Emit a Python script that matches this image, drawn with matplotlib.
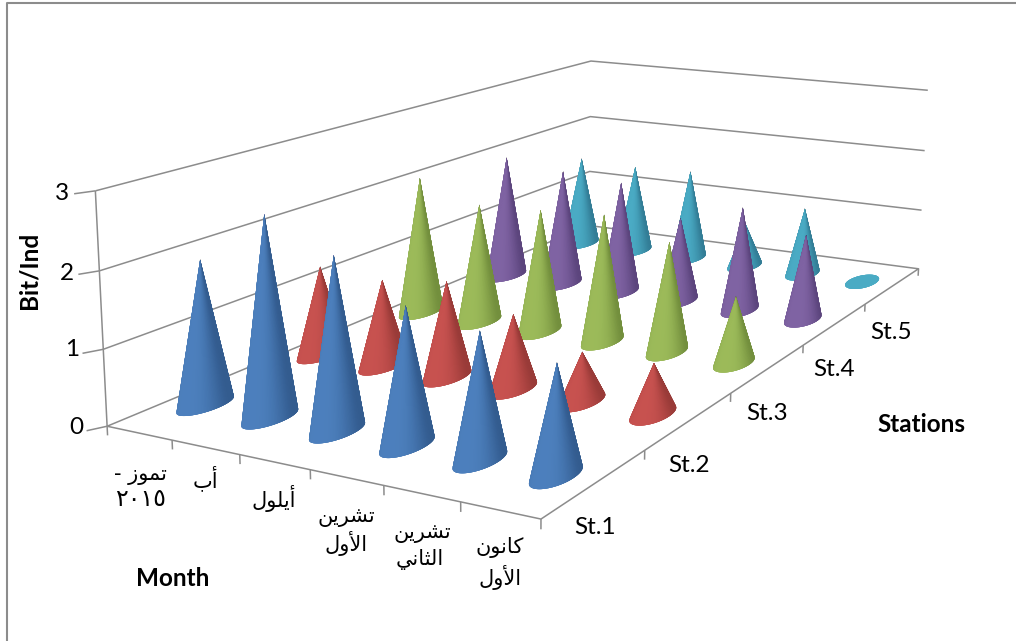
import numpy as np
import matplotlib
matplotlib.use("Agg")
import matplotlib.pyplot as plt
from matplotlib.lines import Line2D
from mpl_toolkits.mplot3d.art3d import Poly3DCollection

W, H = 1016, 641

# rows are stations, columns are months
st1 = [1.93, 2.64, 2.25, 1.76, 1.60, 1.37]
st2 = [1.27, 1.22, 1.34, 1.03, 0.67, 0.68]
st3 = [2.07, 1.78, 1.82, 1.87, 1.60, 0.95]
st4 = [1.95, 1.83, 1.76, 1.32, 1.60, 1.30]
st5 = [1.50, 1.46, 1.49, 0.70, 1.09, 0.00]
stations = ["St.1", "St.2", "St.3", "St.4", "St.5"]
z_ticks = [0, 1, 2, 3]

# Arabic month names as presentation forms in visual order,
# matplotlib does no shaping of its own
m_tammuz = "- \uFEAF\uFEEE\uFEE4\uFE97"
m_2015 = "\u0662\u0660\u0661\u0665"
m_ab = "\uFE8F\uFE83"
m_aylul = "\uFEDD\uFEEE\uFEE0\uFEF3\uFE83"
m_tishrin = "\uFEE6\uFEF3\uFEAE\uFEB8\uFE97"
m_awwal = "\uFEDD\uFEED\uFEF7\uFE8D"
m_thani = "\uFEF2\uFEE7\uFE8E\uFE9C\uFEDF\uFE8D"
m_kanun = "\uFEE5\uFEEE\uFEE7\uFE8E\uFEDB"

# (light, dark) per series
colours = [
    ((0.30, 0.50, 0.74), (0.20, 0.36, 0.56)),
    ((0.78, 0.32, 0.31), (0.60, 0.23, 0.22)),
    ((0.61, 0.73, 0.35), (0.45, 0.56, 0.24)),
    ((0.50, 0.39, 0.64), (0.36, 0.27, 0.49)),
    ((0.29, 0.67, 0.77), (0.20, 0.49, 0.59)),
]
GRID = "#8c8c8c"

plt.rcParams["font.family"] = ["Lato", "DejaVu Sans"]

fig = plt.figure(figsize=(W / 100, H / 100), dpi=100)
fig.patch.set_facecolor("white")

ax = fig.add_axes([0, 0, 1, 1], projection="3d", computed_zorder=False)
ax.set_xlim(0, 6)
ax.set_ylim(0, 5)
ax.set_zlim(0, 3)
ax.view_init(elev=13.4539, azim=-61.5793, roll=-0.5071)
ax.set_proj_type("persp", focal_length=0.3642)
ax.set_box_aspect((1, 2.0586, 0.4832))
ax.set_axis_off()
ax.patch.set_alpha(0)

# place the square 3D axes so the floor lands where it should
scale, off_x, off_y = 5303.097, 571.86, 405.03
vl = ax.viewLim
ax.set_position([(off_x + scale * vl.x0) / W, (off_y + scale * vl.y0) / H,
                 scale * vl.width / W, scale * vl.height / H])


def line3(xs, ys, zs, lw=1.1):
    ax.plot(xs, ys, zs, color=GRID, lw=lw, zorder=1, solid_capstyle="butt")


# floor and walls
line3([0, 6, 6, 0, 0], [0, 0, 5, 5, 0], [0, 0, 0, 0, 0])
line3([0, 0], [0, 0], [0, 3])
for z in z_ticks[1:]:
    line3([0, 0, 6], [0, 5, 5], [z, z, z])
    line3([-0.1, 0], [-0.1, 0], [z, z])
line3([-0.1, 0], [-0.1, 0], [0, 0])

for m in range(7):
    line3([m, m], [0, 0], [0, -0.12])
for s in range(1, 6):
    line3([6, 6], [s, s], [0, -0.12])


def draw_cone(cx, cy, height, light, dark, order, rx=0.215, ry=0.2):
    n = 120
    span = 2 * np.pi / n
    t = np.arange(n) * span
    # each sliver overlaps its neighbours so no seams show between them
    t0, t1 = t - 2 * span, t + 2 * span
    verts = []
    for a, b in zip(t0, t1):
        verts.append([(cx + rx * np.cos(a), cy + ry * np.sin(a), 0),
                      (cx + rx * np.cos(b), cy + ry * np.sin(b), 0),
                      (cx, cy, height)])
    # brightest a little left of the middle, darkest at the right rim
    a = t + np.radians(61.58)
    k = np.clip(np.abs(np.sin(a) + 0.25) / 1.25, 0, 1) ** 3
    k = np.where(np.cos(a) > 0, k, 1)
    if height == 0:
        k = np.zeros(n)
    rgb = np.outer(1 - k, light) + np.outer(k, dark)
    poly = Poly3DCollection(verts, facecolors=rgb, edgecolors="none", linewidths=0)
    poly.set_zorder(order)
    ax.add_collection3d(poly, autolim=False)


series = [st1, st2, st3, st4, st5]
order = 10
# back to front: far stations first, and early months first in a row
for j in range(4, -1, -1):
    for i in range(6):
        draw_cone(i + 0.5, j + 0.5, series[j][i], colours[j][0], colours[j][1], order)
        order += 1


def label(x, y, s, **kw):
    kw.setdefault("fontsize", 17.5)
    fig.text(x / W, 1 - y / H, s, ha="center", va="center", color="black", **kw)


for z, x, y in zip(z_ticks, [76, 72, 67, 62], [427, 350, 273, 193]):
    label(x, y, str(z))

for s, x, y in zip(stations, [595, 689, 767, 834, 891], [528, 466, 413, 370, 332]):
    label(x, y, s)

label(29, 270, "Bit/Ind", fontweight="bold", rotation=90)
label(173, 578, "Month", fontweight="bold")
label(921, 424, "Stations", fontweight="bold")

ar = dict(family="DejaVu Sans", fontsize=15)
label(140, 475, m_tammuz, **ar)
label(140, 499, m_2015, family="DejaVu Sans", fontsize=17)
label(205, 478, m_ab, **ar)
label(274, 498, m_aylul, **ar)
label(346, 517, m_tishrin, **ar)
label(346, 544, m_awwal, **ar)
label(422, 533, m_tishrin, **ar)
label(420, 560, m_thani, **ar)
label(500, 548, m_kanun, **ar)
label(500, 577, m_awwal, **ar)

# chart border, top and left only
fig.add_artist(Line2D([6.5 / W, 6.5 / W, 1], [0, 1 - 3 / H, 1 - 3 / H],
                      transform=fig.transFigure, color="#8c8c8c", lw=1.5))

fig.savefig("out.png", dpi=100)
